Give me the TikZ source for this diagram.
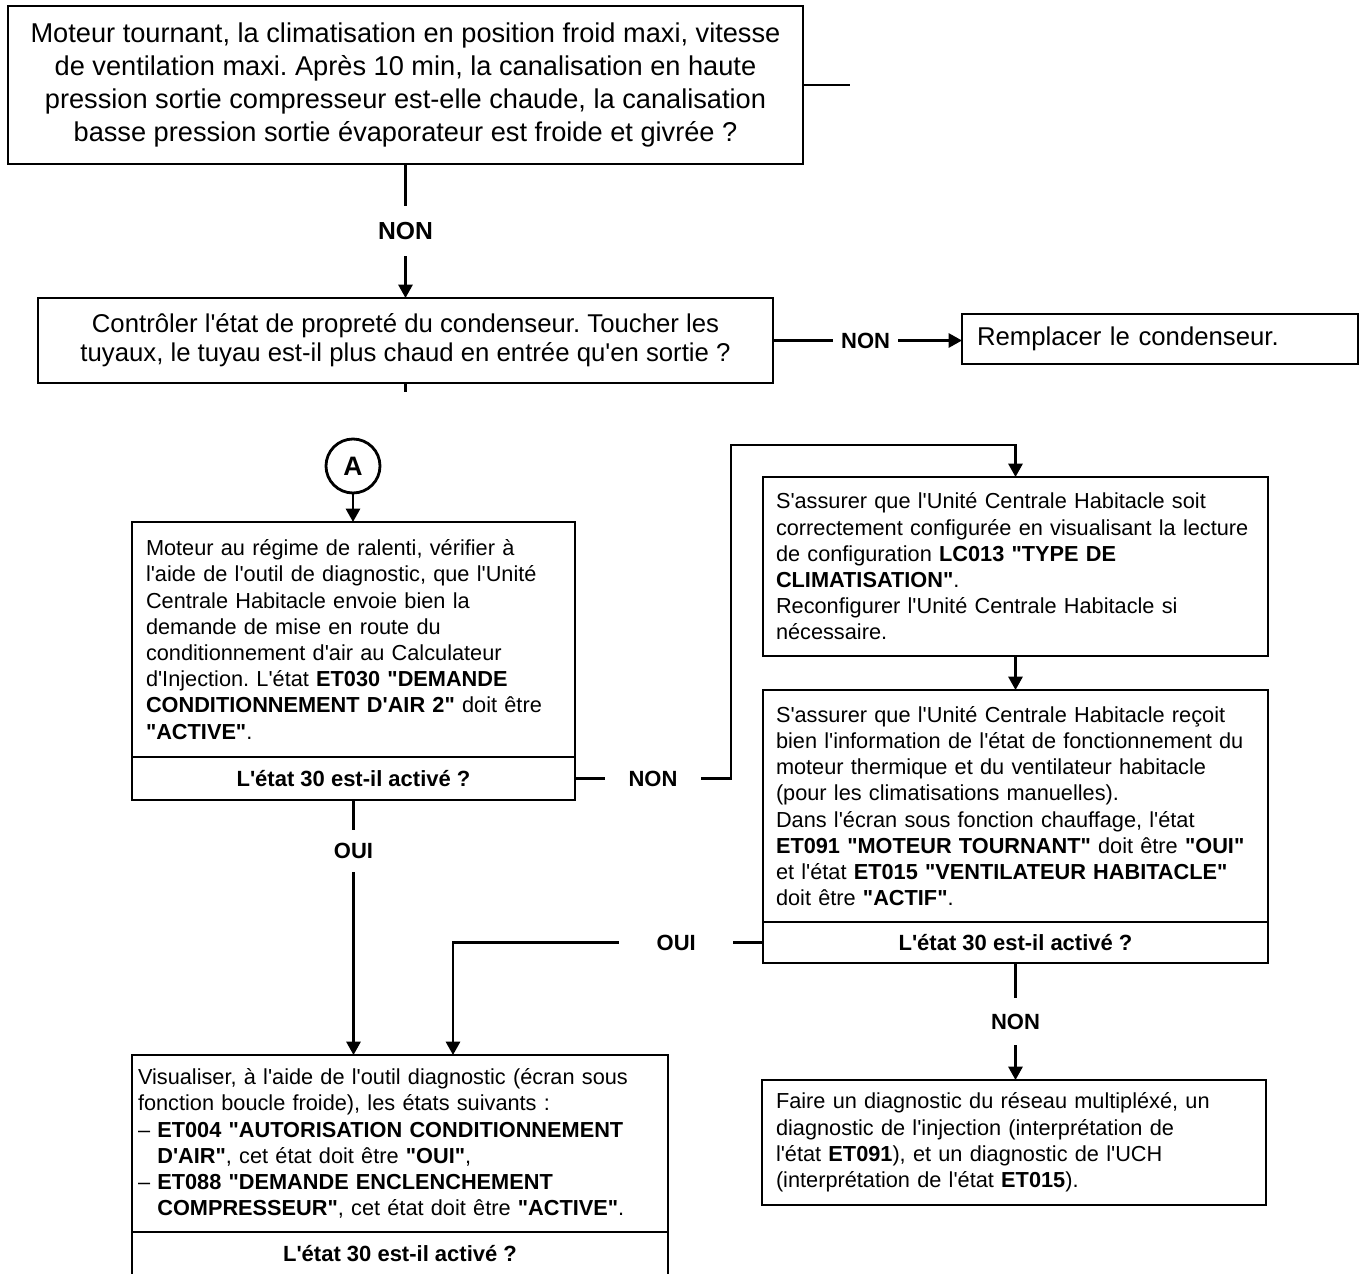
\documentclass[tikz,border=0pt]{standalone}
\usepackage{fontspec}
\setmainfont{Liberation Sans}[Ligatures=TeXOff]
\usetikzlibrary{arrows.meta,calc}
\frenchspacing
\newcommand{\ml}[1]{\mbox{#1}}
\newcommand{\hang}{\phantom{– }}
\begin{document}
\begin{tikzpicture}[x=0.75pt,y=-0.75pt,
  box/.style={draw, line width=2.1pt, anchor=north west, inner xsep=0pt, inner ysep=0pt, outer sep=0pt},
  ftop/.style={font=\fontsize{20.4}{24.75}\selectfont},
  fcond/.style={font=\fontsize{19.3}{21.75}\selectfont},
  fmid/.style={font=\fontsize{16.3}{19.65}\selectfont},
  qbox/.style={box, align=center, font=\bfseries\fontsize{16.5}{19.65}\selectfont},
  conn/.style={line width=2.1pt, -{Triangle[length=10pt,width=10.5pt]}},
  link/.style={line width=2.1pt},
  lbl/.style={fill=white, font=\bfseries\fontsize{16.5}{19.65}\selectfont, inner xsep=10pt, inner ysep=8pt},
]
\useasboundingbox (0,0) rectangle (1364,1274);
\clip (0,0) rectangle (1364,1274);

% top box
\node[box, ftop, align=center, minimum width=596.25pt, minimum height=118.5pt] (top) at (8,6)
 {Moteur tournant, la climatisation en position froid maxi, vitesse\\
  de ventilation maxi. Après 10 min, la canalisation en haute\\
  pression sortie compresseur est-elle chaude, la canalisation\\
  basse pression sortie évaporateur est froide et givrée ?};

% condenser
\node[box, fcond, align=center, minimum width=551.25pt, minimum height=63.75pt] (cond) at (38,298)
 {Contrôler l'état de propreté du condenseur. Toucher les\\
  tuyaux, le tuyau est-il plus chaud en entrée qu'en sortie ?};

\node[box, fcond, align=left, inner xsep=11.25pt, text width=274.5pt, minimum height=37.5pt] (repl) at (962,314)
 {Remplacer le condenseur.};

% circle A
\node[draw, circle, line width=2.1pt, minimum size=40.5pt, inner sep=0pt, outer sep=0pt,
      font=\bfseries\fontsize{20}{24}\selectfont] (A) at (353,466) {A};

% left box 1
\node[box, fmid, align=left, inner xsep=10.5pt, text width=311.25pt, minimum height=176.25pt] (L1) at (132,522)
 {\ml{Moteur au régime de ralenti, vérifier à}\\
  \ml{l'aide de l'outil de diagnostic, que l'Unité}\\
  \ml{Centrale Habitacle envoie bien la}\\
  \ml{demande de mise en route du}\\
  \ml{conditionnement d'air au Calculateur}\\
  \ml{d'Injection. L'état \textbf{ET030 "DEMANDE}}\\
  \ml{\textbf{CONDITIONNEMENT D'AIR 2"} doit être}\\
  \ml{\textbf{"ACTIVE"}.}};
\node[qbox, minimum width=332.25pt, minimum height=32.25pt] (L1q) at (L1.south west) {L'état 30 est-il activé ?};

% right box 1
\node[box, fmid, align=left, inner xsep=9.75pt, text width=359.25pt, minimum height=134.25pt] (R1) at (763,477)
 {\ml{S'assurer que l'Unité Centrale Habitacle soit}\\
  \ml{correctement configurée en visualisant la lecture}\\
  \ml{de configuration \textbf{LC013 "TYPE DE}}\\
  \ml{\textbf{CLIMATISATION"}.}\\
  \ml{Reconfigurer l'Unité Centrale Habitacle si}\\
  \ml{nécessaire.}};

% right box 2
\node[box, fmid, align=left, inner xsep=9.75pt, text width=359.25pt, minimum height=174pt] (R2) at (763,690)
 {\ml{S'assurer que l'Unité Centrale Habitacle reçoit}\\
  \ml{bien l'information de l'état de fonctionnement du}\\
  \ml{moteur thermique et du ventilateur habitacle}\\
  \ml{(pour les climatisations manuelles).}\\
  \ml{Dans l'écran sous fonction chauffage, l'état}\\
  \ml{\textbf{ET091 "MOTEUR TOURNANT"} doit être \textbf{"OUI"}}\\
  \ml{et l'état \textbf{ET015 "VENTILATEUR HABITACLE"}}\\
  \ml{doit être \textbf{"ACTIF"}.}};
\node[qbox, minimum width=378.75pt, minimum height=30.75pt] (R2q) at (R2.south west) {L'état 30 est-il activé ?};

% right box 3
\node[box, fmid, align=left, inner xsep=10.5pt, text width=357pt, minimum height=93.75pt] (R3) at (762,1080)
 {\ml{Faire un diagnostic du réseau multipléxé, un}\\
  \ml{diagnostic de l'injection (interprétation de}\\
  \ml{l'état \textbf{ET091}), et un diagnostic de l'UCH}\\
  \ml{(interprétation de l'état \textbf{ET015}).}};

% left box 2
\node[box, fmid, align=left, inner xsep=4.5pt, text width=393pt, minimum height=132.75pt] (L2) at (132,1055)
 {\ml{Visualiser, à l'aide de l'outil diagnostic (écran sous}\\
  \ml{fonction boucle froide), les états suivants :}\\
  \ml{– \textbf{ET004 "AUTORISATION CONDITIONNEMENT}}\\
  \ml{\hang\textbf{D'AIR"}, cet état doit être \textbf{"OUI"},}\\
  \ml{– \textbf{ET088 "DEMANDE ENCLENCHEMENT}}\\
  \ml{\hang\textbf{COMPRESSEUR"}, cet état doit être \textbf{"ACTIVE"}.}};
\node[qbox, minimum width=402pt, minimum height=33pt] (L2q) at (L2.south west) {L'état 30 est-il activé ?};

% connectors
\coordinate (topstub) at (850,85);
\coordinate (condstub) at (405.5,392);
\coordinate (c1) at (731,445);
\coordinate (c2) at (453,942.5);

\draw[link] (top.east) -- (topstub);
\draw[conn] (top.south) -- node[lbl, font=\bfseries\fontsize{18.5}{22}\selectfont, inner ysep=12pt]{NON} (cond.north);
\draw[link] (cond.south) -- (condstub);
\draw[conn] (cond.east) -- node[lbl, pos=0.49, inner xsep=6pt]{NON} (cond.east -| repl.west);
\draw[conn] (A.south) -- (A.south |- L1.north);
\draw[conn] (L1q.east) -- node[lbl, inner xsep=18pt]{NON} (L1q.east -| c1) -- (c1) -- (c1 -| R1.north) -- (R1.north);
\draw[conn] (R1.south) -- (R2.north);
\draw[conn] (L1q.south) -- node[lbl, pos=0.2, inner ysep=10pt]{OUI} (L1q.south |- L2.north);
\draw[conn] (R2q.west) -- node[lbl, pos=0.28, inner xsep=28pt]{OUI} (c2) -- (c2 |- L2.north);
\draw[conn] (R2q.south) -- node[lbl, inner ysep=12pt]{NON} (R2q.south |- R3.north);
\end{tikzpicture}
\end{document}
